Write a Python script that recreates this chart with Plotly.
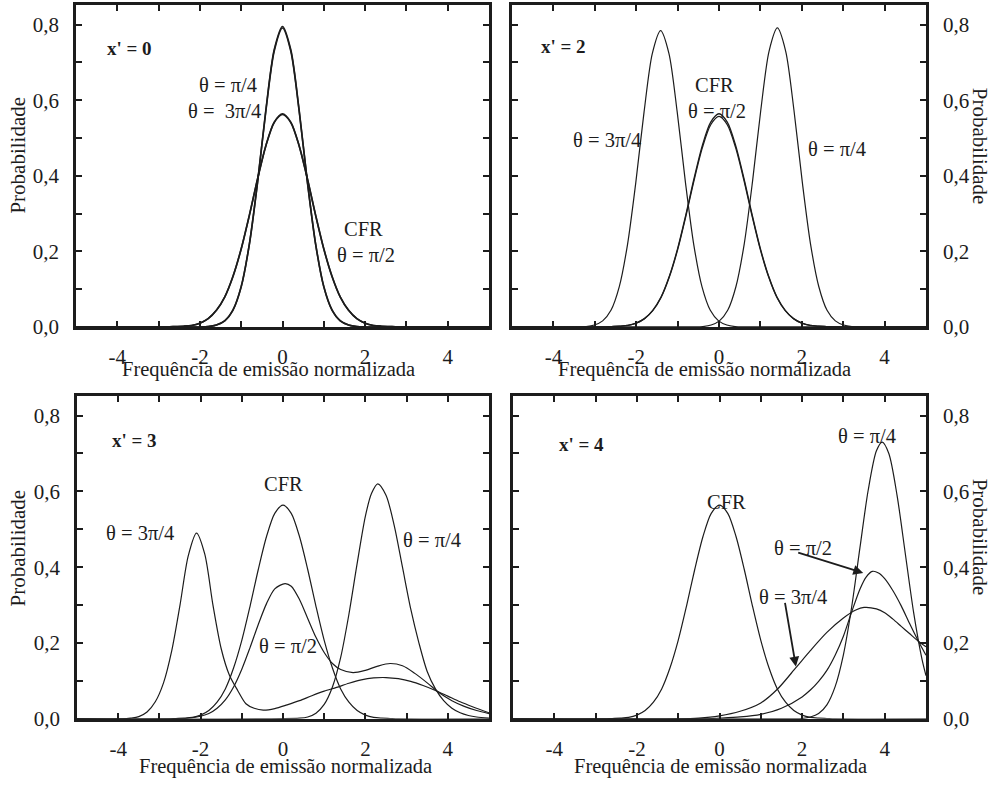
import plotly.graph_objects as go

# ---------------- data: normalized emission frequency vs probability ----------------
# x' = 0
p1_x = [-5.0, -2.8, -2.6, -2.4, -2.2, -2.0, -1.8, -1.6, -1.4, -1.2, -1.0, -0.8, -0.6, -0.4, -0.2,
        0.0, 0.2, 0.4, 0.6, 0.8, 1.0, 1.2, 1.4, 1.6, 1.8, 2.0, 2.2, 2.4, 2.6, 2.8, 5.0]
p1_cfr = [0, 0, 0.001, 0.002, 0.004, 0.010, 0.022, 0.044, 0.079, 0.134, 0.207, 0.297, 0.394, 0.481, 0.542,
          0.564, 0.542, 0.481, 0.394, 0.297, 0.207, 0.134, 0.079, 0.044, 0.022, 0.010, 0.004, 0.002, 0.001, 0, 0]
p1_pi2 = [0, 0, 0.001, 0.002, 0.004, 0.010, 0.022, 0.044, 0.079, 0.133, 0.206, 0.296, 0.393, 0.480, 0.541,
          0.562, 0.541, 0.480, 0.393, 0.296, 0.206, 0.133, 0.079, 0.044, 0.022, 0.010, 0.004, 0.002, 0.001, 0, 0]
p1_pi4 = [0, 0, 0, 0, 0, 0, 0.001, 0.005, 0.016, 0.045, 0.107, 0.221, 0.387, 0.577, 0.734,
          0.795, 0.734, 0.577, 0.387, 0.221, 0.107, 0.045, 0.016, 0.005, 0.001, 0, 0, 0, 0, 0, 0]
p1_3pi4 = [0, 0, 0, 0, 0, 0, 0.001, 0.005, 0.016, 0.044, 0.106, 0.220, 0.385, 0.574, 0.730,
           0.791, 0.730, 0.574, 0.385, 0.220, 0.106, 0.044, 0.016, 0.005, 0.001, 0, 0, 0, 0, 0, 0]

# x' = 2
p2_x = p1_x
p2_cfr = p1_cfr
p2_pi2 = [0, 0, 0.001, 0.002, 0.004, 0.010, 0.022, 0.043, 0.078, 0.132, 0.204, 0.293, 0.389, 0.475, 0.535,
          0.557, 0.535, 0.475, 0.389, 0.293, 0.204, 0.132, 0.078, 0.043, 0.022, 0.010, 0.004, 0.002, 0.001, 0, 0]
p2_pi4_x = [-5.0, -0.59, -0.39, -0.19, 0.01, 0.21, 0.41, 0.61, 0.81, 1.01, 1.21, 1.41,
            1.61, 1.81, 2.01, 2.21, 2.41, 2.61, 2.81, 3.01, 3.21, 3.41, 5.0]
p2_pi4 = [0, 0, 0.001, 0.005, 0.016, 0.044, 0.107, 0.220, 0.385, 0.574, 0.730, 0.791,
          0.730, 0.574, 0.385, 0.220, 0.107, 0.044, 0.016, 0.005, 0.001, 0, 0]
p2_3pi4_x = [-5.0, -3.41, -3.21, -3.01, -2.81, -2.61, -2.41, -2.21, -2.01, -1.81, -1.61, -1.41,
             -1.21, -1.01, -0.81, -0.61, -0.41, -0.21, -0.01, 0.19, 0.39, 0.59, 5.0]
p2_3pi4 = [0, 0, 0.001, 0.005, 0.016, 0.044, 0.106, 0.218, 0.382, 0.569, 0.724, 0.784,
           0.724, 0.569, 0.382, 0.218, 0.106, 0.044, 0.016, 0.005, 0.001, 0, 0]

# x' = 3
p3_x = p1_x
p3_cfr = p1_cfr
p3_3pi4_x = [-5.0, -3.9, -3.7, -3.5, -3.3, -3.1, -2.9, -2.7, -2.5, -2.3, -2.1, -1.9, -1.7, -1.5, -1.3,
             -1.1, -0.9, -0.7, -0.48, -0.2, 0.1, 0.4, 0.7, 1.0, 1.3, 1.6, 1.9, 2.2, 2.5, 2.8, 3.1,
             3.4, 3.7, 4.0, 4.3, 4.6, 5.0]
p3_3pi4 = [0, 0, 0.002, 0.006, 0.018, 0.045, 0.095, 0.18, 0.30, 0.43, 0.49, 0.435, 0.30, 0.185, 0.115,
           0.075, 0.040, 0.028, 0.023, 0.027, 0.037, 0.048, 0.061, 0.073, 0.083, 0.094, 0.103, 0.108, 0.109,
           0.106, 0.099, 0.088, 0.075, 0.060, 0.045, 0.032, 0.016]
p3_pi2_x = [-5.0, -2.6, -2.2, -2.0, -1.8, -1.6, -1.4, -1.2, -1.0, -0.8, -0.6, -0.4, -0.2, 0.05,
            0.2, 0.4, 0.6, 0.8, 1.0, 1.2, 1.4, 1.7, 2.0, 2.3, 2.6, 2.9, 3.2, 3.5, 3.8, 4.1, 4.4, 4.7, 5.0]
p3_pi2 = [0, 0, 0.003, 0.007, 0.014, 0.028, 0.050, 0.084, 0.131, 0.188, 0.249, 0.304, 0.343, 0.357,
          0.350, 0.315, 0.265, 0.215, 0.175, 0.146, 0.130, 0.122, 0.128, 0.139, 0.146, 0.140, 0.120, 0.095,
          0.068, 0.048, 0.033, 0.022, 0.014]
p3_pi4_x = [-5.0, 0.4, 0.6, 0.8, 1.0, 1.2, 1.4, 1.6, 1.8, 2.0, 2.15, 2.3, 2.5, 2.7, 2.9, 3.1, 3.3,
            3.5, 3.7, 3.9, 4.1, 4.3, 4.5, 4.7, 5.0]
p3_pi4 = [0, 0.002, 0.005, 0.015, 0.038, 0.084, 0.162, 0.276, 0.41, 0.535, 0.595, 0.62, 0.59, 0.51, 0.40,
          0.29, 0.20, 0.125, 0.079, 0.048, 0.028, 0.016, 0.009, 0.005, 0.002]

# x' = 4
p4_x = p1_x
p4_cfr = p1_cfr
p4_pi4_x = [-5.0, 1.8, 2.0, 2.2, 2.4, 2.6, 2.8, 3.0, 3.2, 3.4, 3.6, 3.8, 3.94, 4.1, 4.3, 4.5, 4.7, 4.9, 5.0]
p4_pi4 = [0, 0, 0.001, 0.005, 0.014, 0.037, 0.085, 0.169, 0.295, 0.451, 0.603, 0.707, 0.730, 0.700,
          0.589, 0.435, 0.281, 0.159, 0.114]
p4_pi2_x = [-5.0, -0.5, 0.0, 0.5, 1.0, 1.5, 2.0, 2.2, 2.4, 2.6, 2.8, 3.0, 3.2, 3.4, 3.55, 3.7, 3.85,
            4.0, 4.2, 4.4, 4.6, 4.8, 5.0]
p4_pi2 = [0, 0, 0.002, 0.005, 0.012, 0.028, 0.058, 0.076, 0.099, 0.128, 0.168, 0.218, 0.282, 0.342,
          0.374, 0.389, 0.385, 0.370, 0.338, 0.298, 0.252, 0.208, 0.168]
p4_3pi4_x = [-5.0, -1.0, -0.5, 0.0, 0.5, 1.0, 1.4, 1.85, 2.2, 2.6, 3.0, 3.3, 3.5, 3.8, 4.0, 4.2, 4.4,
             4.6, 4.8, 5.0]
p4_3pi4 = [0, 0, 0.002, 0.008, 0.02, 0.042, 0.078, 0.135, 0.18, 0.228, 0.266, 0.287, 0.294, 0.29, 0.28,
           0.263, 0.244, 0.225, 0.206, 0.19]

# axis ticks
x_tickvals = [-4, -3, -2, -1, 0, 1, 2, 3, 4]
x_ticktext = ["-4", "", "-2", "", "0", "", "2", "", "4"]
y_tickvals = [0.0, 0.1, 0.2, 0.3, 0.4, 0.5, 0.6, 0.7, 0.8]
y_ticktext = ["0,0", "", "0,2", "", "0,4", "", "0,6", "", "0,8"]

# ---------------- figure ----------------
W, H = 994, 787
FONT = "Liberation Serif"
INK = "#1c1c1c"

fig = go.Figure()


def curve(x, y, ax, width=1.2):
    fig.add_trace(go.Scatter(
        x=x, y=y, mode="lines", xaxis="x" + ax, yaxis="y" + ax,
        line=dict(color=INK, width=width, shape="spline", smoothing=0.8),
        hoverinfo="skip", showlegend=False))


curve(p1_x, p1_cfr, "", 1.6)
curve(p1_x, p1_pi2, "", 1.6)
curve(p1_x, p1_pi4, "", 1.6)
curve(p1_x, p1_3pi4, "", 1.6)

curve(p2_x, p2_cfr, "2", 1.3)
curve(p2_x, p2_pi2, "2", 1.3)
curve(p2_pi4_x, p2_pi4, "2")
curve(p2_3pi4_x, p2_3pi4, "2")

curve(p3_x, p3_cfr, "3")
curve(p3_3pi4_x, p3_3pi4, "3")
curve(p3_pi2_x, p3_pi2, "3")
curve(p3_pi4_x, p3_pi4, "3")

curve(p4_x, p4_cfr, "4")
curve(p4_pi4_x, p4_pi4, "4")
curve(p4_pi2_x, p4_pi2, "4")
curve(p4_3pi4_x, p4_3pi4, "4")


def xaxis(px0, px1, anchor):
    return dict(domain=[px0 / W, px1 / W], anchor=anchor, range=[-5, 5],
                tickmode="array", tickvals=x_tickvals, ticktext=x_ticktext,
                ticks="inside", ticklen=6, tickwidth=2, tickcolor=INK,
                showline=True, linewidth=2.5, linecolor=INK, mirror="ticks",
                showgrid=False, zeroline=False, ticklabelstandoff=9,
                tickfont=dict(family=FONT, size=21, color=INK), fixedrange=True)


def yaxis(py0, py1, anchor, side):
    return dict(domain=[1 - py1 / H, 1 - py0 / H], anchor=anchor, range=[0, 0.852], side=side,
                tickmode="array", tickvals=y_tickvals, ticktext=y_ticktext,
                ticks="inside", ticklen=6, tickwidth=2, tickcolor=INK,
                showline=True, linewidth=2.5, linecolor=INK, mirror="ticks",
                showgrid=False, zeroline=False, ticklabelstandoff=10,
                tickfont=dict(family=FONT, size=21, color=INK), fixedrange=True)


fig.update_layout(
    width=W, height=H, margin=dict(l=0, r=0, t=0, b=0),
    paper_bgcolor="white", plot_bgcolor="white",
    font=dict(family=FONT, color=INK),
    xaxis=xaxis(76, 489, "y"), yaxis=yaxis(5, 332, "x", "left"),
    xaxis2=xaxis(512, 926, "y2"), yaxis2=yaxis(5, 332, "x2", "right"),
    xaxis3=xaxis(77, 489, "y3"), yaxis3=yaxis(402, 730, "x3", "left"),
    xaxis4=xaxis(513, 926, "y4"), yaxis4=yaxis(402, 730, "x4", "right"),
)

ann = []


def label(text, x, y, ax, size=20.5, bold=False, xanchor="center"):
    ann.append(dict(text=("<b>%s</b>" % text) if bold else text, x=x, y=y,
                    xref="x" + ax, yref="y" + ax, showarrow=False, xanchor=xanchor,
                    yanchor="middle", yshift=-4, font=dict(family=FONT, size=size, color=INK)))


def paper_text(text, px, py, angle=0, size=20.5):
    ann.append(dict(text=text, x=px / W, y=1 - py / H, xref="paper", yref="paper",
                    showarrow=False, xanchor="center", yanchor="middle", textangle=angle,
                    font=dict(family=FONT, size=size, color=INK)))


# panel x' = 0
label("x' = 0", -4.31, 0.747, "", 19, True, "left")
label("θ = π/4", -1.33, 0.651, "")
label("θ = \u00a03π/4", -1.40, 0.583, "")
label("CFR", 1.96, 0.271, "")
label("θ = π/2", 2.01, 0.200, "")

# panel x' = 2
label("x' = 2", -4.35, 0.753, "2", 19, True, "left")
label("CFR", -0.12, 0.651, "2")
label("θ = π/2", -0.05, 0.583, "2")
label("θ = 3π/4", -2.71, 0.505, "2")
label("θ = π/4", 2.85, 0.482, "2")

# panel x' = 3
label("x' = 3", -4.20, 0.745, "3", 19, True, "left")
label("CFR", 0.0, 0.629, "3")
label("θ = 3π/4", -3.47, 0.501, "3")
label("θ = π/4", 3.62, 0.483, "3")
label("θ = π/2", 0.12, 0.203, "3")

# panel x' = 4
label("x' = 4", -3.93, 0.735, "4", 19, True, "left")
label("θ = π/4", 3.57, 0.758, "4")
label("CFR", 0.16, 0.582, "4")
label("θ = π/2", 2.02, 0.462, "4")
label("θ = 3π/4", 1.78, 0.332, "4")

# pointer arrows for the x' = 4 curves
for tail, tip in [((1.87, 0.44), (3.48, 0.385)), ((1.58, 0.31), (1.85, 0.138))]:
    ann.append(dict(x=tip[0], y=tip[1], ax=tail[0], ay=tail[1], xref="x4", yref="y4",
                    axref="x4", ayref="y4", text="", showarrow=True, arrowhead=2,
                    arrowsize=1.1, arrowwidth=1.8, arrowcolor=INK, standoff=0, startstandoff=0))

# axis titles
xt = "Frequência de emissão normalizada"
paper_text(xt, 268, 375)
paper_text(xt, 704, 375)
paper_text(xt, 285, 778)
paper_text(xt, 720, 778)
paper_text("Probabilidade", 18, 158, -90, 21)
paper_text("Probabilidade", 18, 557, -90, 21)
paper_text("Probabilidade", 980, 148, 90, 21)
paper_text("Probabilidade", 980, 545, 90, 21)

fig.update_layout(annotations=ann)
fig.write_html("out.html")
